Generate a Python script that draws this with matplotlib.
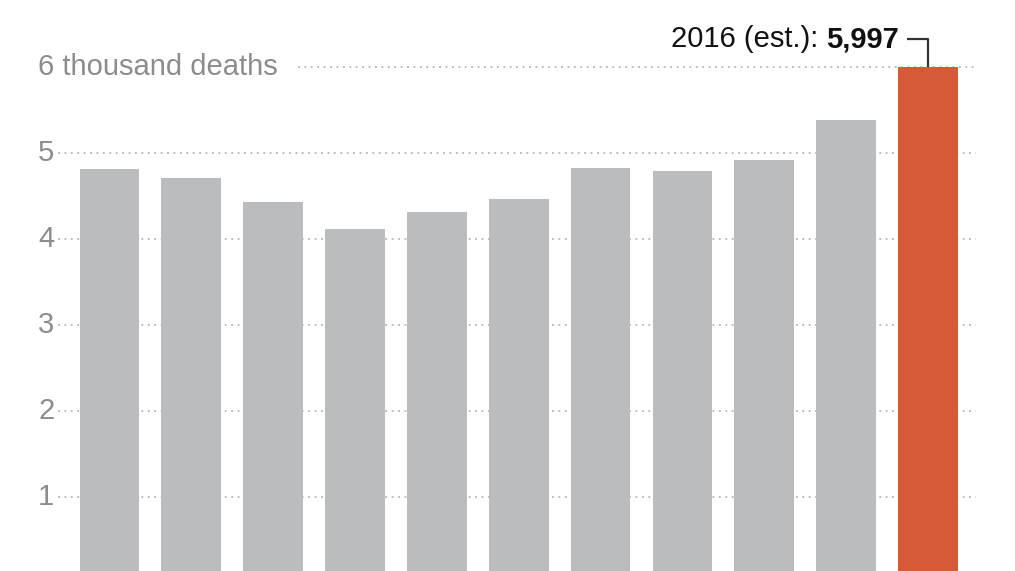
import matplotlib
matplotlib.use("Agg")
import matplotlib.pyplot as plt

# data (thousands of deaths)
years = [2006, 2007, 2008, 2009, 2010, 2011, 2012, 2013, 2014, 2015, 2016]
deaths = [4.81, 4.71, 4.43, 4.12, 4.31, 4.47, 4.82, 4.79, 4.92, 5.38, 5.997]
ytick_vals = [0, 1, 2, 3, 4, 5, 6]
ytick_labels = ["0", "1", "2", "3", "4", "5", "6 thousand deaths"]
est_label = "2016 (est.): "
est_value = "5,997"

plt.rcParams["font.family"] = ["Liberation Sans", "DejaVu Sans"]

GRAY = "#bbbcbe"
ORANGE = "#d65a36"
TXT = "#8c8c8c"

W, H = 1015, 571
fig = plt.figure(figsize=(W / 100, H / 100), dpi=100)
# axes spans whole width; zero line sits a bit below the bottom edge
zero_px = 583
px_per_unit = 86
ax = fig.add_axes([0, 1 - zero_px / H, 1, zero_px / H])
ax.set_ylim(0, zero_px / px_per_unit)
step = 81.85
first = 109.5
ax.set_xlim(-first / step, (W - first) / step)
ax.axis("off")

xs = list(range(len(years)))
colors = [GRAY] * (len(years) - 1) + [ORANGE]
ax.bar(xs, deaths, width=0.73, color=colors, zorder=2)

# dotted gridlines + labels
for v, lab in zip(ytick_vals, ytick_labels):
    start = 298 / W if v == 6 else 58 / W
    ax.axhline(v, xmin=start, xmax=976 / W, color="#a8a8a8", lw=1.1,
               ls=(0, (1.2, 3)), zorder=1)
    ax.text(38 / W, v, lab, transform=ax.get_yaxis_transform(),
            ha="left", va="center", fontsize=21, color=TXT, clip_on=False)

# callout for 2016
xl = xs[-1]
top = deaths[-1]
lift = 28 / px_per_unit
arm = 21 / step
ax.plot([xl - arm, xl, xl], [top + lift, top + lift, top], color="#333333",
        lw=1.6, zorder=3, solid_capstyle="butt")
t_bold = ax.text(xl - arm - 8 / step, top + lift, est_value, ha="right",
                 va="center", fontsize=21, fontweight="bold", color="#111111")
ax.annotate(est_label, xy=(0, 0.5), xycoords=t_bold, ha="right", va="center",
            fontsize=21, color="#111111")

fig.savefig("out.png", dpi=100)
